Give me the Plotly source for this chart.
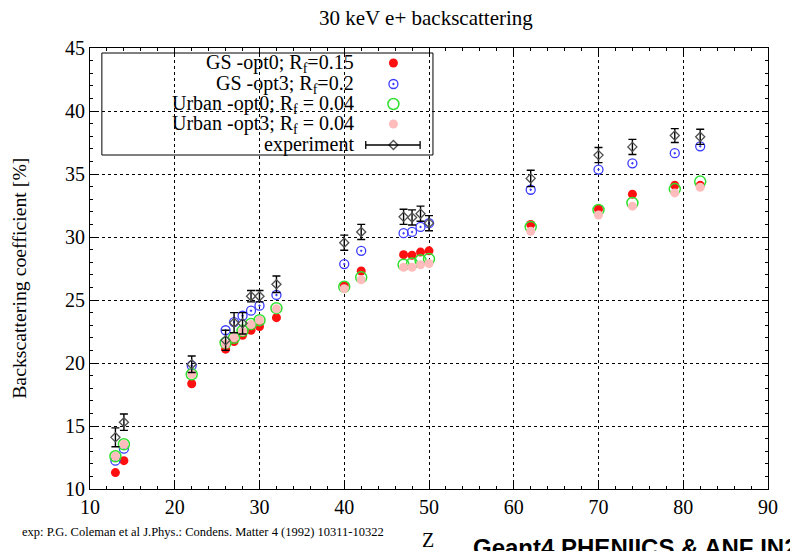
import plotly.graph_objects as go

# Atomic number of each target
Z = [13, 14, 22, 26, 27, 28, 29, 30, 32, 40, 42, 47, 48, 49, 50, 62, 70, 74, 79, 82]

# Measured backscattering coefficient [%] and its uncertainty
exp_val = [14.1, 15.3, 19.9, 21.8, 23.2, 23.15, 25.3, 25.3, 26.25, 29.55,
           30.4, 31.6, 31.55, 31.85, 31.1, 34.65, 36.5, 37.15, 38.05, 37.95]
exp_err = [0.75, 0.65, 0.65, 0.8, 0.8, 0.85, 0.45, 0.45, 0.65, 0.6,
           0.6, 0.6, 0.6, 0.6, 0.6, 0.65, 0.6, 0.6, 0.55, 0.6]

# Simulated values
gs_opt0 = [11.3, 12.25, 18.35, 21.1, 21.7, 22.2, 22.6, 22.9, 23.6, 26.15,
           27.3, 28.6, 28.55, 28.8, 28.9, 31.0, 32.2, 33.4, 34.1, 34.1]
gs_opt3 = [12.25, 13.2, 19.8, 22.6, 23.25, 23.75, 24.15, 24.55, 25.4, 27.85,
           28.9, 30.3, 30.4, 30.8, 31.1, 33.75, 35.35, 35.85, 36.65, 37.2]
urban_opt0 = [12.6, 13.55, 19.1, 21.6, 22.0, 22.55, 23.1, 23.4, 24.35, 26.05,
              26.8, 27.8, 27.9, 28.15, 28.25, 30.8, 32.15, 32.7, 33.8, 34.4]
urban_opt3 = [12.6, 13.55, 19.1, 21.5, 22.0, 22.5, 23.05, 23.4, 24.3, 25.9,
              26.6, 27.6, 27.6, 27.8, 27.9, 30.45, 31.75, 32.45, 33.5, 33.95]

legend_labels = ["GS -opt0; R<sub>f</sub>=0.15",
                 "GS -opt3; R<sub>f</sub>=0.2",
                 "Urban -opt0; R<sub>f</sub> = 0.04",
                 "Urban -opt3; R<sub>f</sub> = 0.04",
                 "experiment"]

SERIF = "Liberation Serif, Times New Roman, serif"

RED = "#ff1010"
BLUE = "#3a3aff"
GREEN = "#30e030"
PINK = "#ffbcbc"
EXPC = "#505050"

styles = [
    dict(symbol="circle", size=9, color=RED, line=dict(width=0)),
    dict(symbol="circle-open-dot", size=9, color=BLUE, line=dict(width=1.3)),
    dict(symbol="circle-open", size=11, color=GREEN, line=dict(width=1.5)),
    dict(symbol="circle", size=9, color=PINK, line=dict(width=0)),
]
exp_marker = dict(symbol="diamond-open", size=7, color=EXPC, line=dict(width=1.3))
series = [gs_opt0, gs_opt3, urban_opt0, urban_opt3]

fig = go.Figure()

for vals, mk in zip(series, styles):
    fig.add_trace(go.Scatter(x=Z, y=vals, mode="markers", marker=mk,
                             showlegend=False, hoverinfo="x+y"))

fig.add_trace(go.Scatter(
    x=Z, y=exp_val, mode="markers", marker=exp_marker,
    error_y=dict(type="data", array=exp_err, visible=True, width=4,
                 thickness=1.4, color="black"),
    showlegend=False))

# Key box drawn in the top-left corner of the frame (paper coordinates)
W, H = 686.0, 441.0
def px(xp):
    return (xp - 90) / W
def py(yp):
    return (489 - yp) / H

key_rows = [63, 84, 104, 124, 145]
key_sym_x = px(397)

for mk, yy in zip(styles, key_rows[:4]):
    fig.add_trace(go.Scatter(x=[key_sym_x], y=[py(yy)], mode="markers",
                             marker=mk, xaxis="x2", yaxis="y2",
                             showlegend=False, hoverinfo="skip"))
fig.add_trace(go.Scatter(x=[key_sym_x], y=[py(key_rows[4])], mode="markers",
                         marker=exp_marker, xaxis="x2", yaxis="y2",
                         showlegend=False, hoverinfo="skip"))

shapes = [
    dict(type="rect", xref="paper", yref="paper", x0=px(102), x1=px(437),
         y0=py(155), y1=py(53), fillcolor="white",
         line=dict(color="black", width=1), layer="between"),
    dict(type="line", xref="paper", yref="paper", x0=px(369), x1=px(424),
         y0=py(145), y1=py(145), line=dict(color="black", width=1.3), layer="above"),
    dict(type="line", xref="paper", yref="paper", x0=px(369), x1=px(369),
         y0=py(141), y1=py(149), line=dict(color="black", width=1.3), layer="above"),
    dict(type="line", xref="paper", yref="paper", x0=px(424), x1=px(424),
         y0=py(141), y1=py(149), line=dict(color="black", width=1.3), layer="above"),
]

annotations = []
for lab, yy in zip(legend_labels, key_rows):
    annotations.append(dict(text=lab, xref="paper", yref="paper", x=px(359),
                            y=py(yy), xanchor="right", yanchor="middle",
                            showarrow=False, font=dict(family=SERIF, size=20,
                                                       color="black")))

annotations += [
    dict(text="30 keV e+ backscattering", xref="paper", yref="paper",
         x=px(430), y=py(18), xanchor="center", yanchor="middle",
         showarrow=False, font=dict(family=SERIF, size=21, color="black")),
    dict(text="Backscattering coefficient [%]", xref="paper", yref="paper",
         x=px(18), y=py(278), xanchor="center", yanchor="middle", textangle=-90,
         showarrow=False, font=dict(family=SERIF, size=19.8, color="black")),
    dict(text="Z", xref="paper", yref="paper", x=px(432), y=py(540),
         xanchor="center", yanchor="middle", showarrow=False,
         font=dict(family=SERIF, size=20, color="black")),
    dict(text="exp: P.G. Coleman et al J.Phys.: Condens. Matter 4 (1992) 10311-10322",
         xref="paper", yref="paper", x=px(19), y=py(532), xanchor="left",
         yanchor="middle", showarrow=False,
         font=dict(family=SERIF, size=12.5, color="black")),
    dict(text="<b>Geant4 PHENIICS &amp; ANF IN2P3</b>", xref="paper", yref="paper",
         x=px(476), y=py(547), xanchor="left", yanchor="middle", showarrow=False,
         font=dict(family="Liberation Sans, Arial, sans-serif", size=24,
                   color="black")),
]

axis_common = dict(
    showline=True, linecolor="black", linewidth=1, mirror="allticks",
    ticks="inside", ticklen=6, tickwidth=1, tickcolor="black",
    showgrid=True, gridcolor="black", gridwidth=1, griddash="dot",
    zeroline=False,
    tickfont=dict(family=SERIF, size=20, color="black"),
)

fig.update_layout(
    width=790, height=551,
    margin=dict(l=90, r=14, t=48, b=62),
    paper_bgcolor="white", plot_bgcolor="white",
    showlegend=False,
    xaxis=dict(range=[10, 90], dtick=10, tick0=10,
               minor=dict(dtick=2, tick0=10, ticklen=3, ticks="inside",
                          tickcolor="black", showgrid=False),
               **axis_common),
    yaxis=dict(range=[10, 45], dtick=5, tick0=10,
               minor=dict(dtick=1, tick0=10, ticklen=3, ticks="inside",
                          tickcolor="black", showgrid=False),
               **axis_common),
    xaxis2=dict(overlaying="x", range=[0, 1], visible=False, fixedrange=True),
    yaxis2=dict(overlaying="y", range=[0, 1], visible=False, fixedrange=True),
    shapes=shapes,
    annotations=annotations,
)

fig.write_html("out.html")
